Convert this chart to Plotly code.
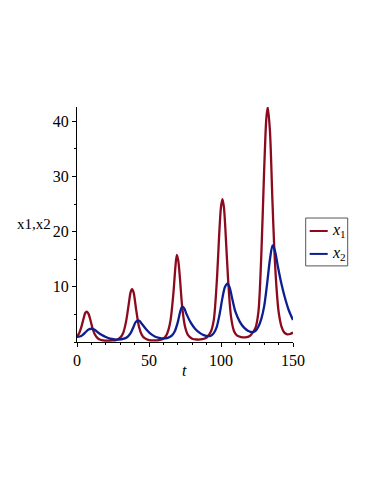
import plotly.graph_objects as go

# x1 (prey-like) samples
t1 = [0, 1.5, 3, 4.5, 5.8, 6.8, 8, 9.5, 11, 13, 15, 18, 22, 25,
      27, 30, 32, 34, 36, 37.2, 38.2, 39.3, 41, 43, 45, 47, 50, 54,
      57, 60, 62, 63.5, 65, 67, 68.3, 69.3, 70.3, 71.5, 73, 75, 77, 80, 83, 87,
      90, 93, 95, 97, 99, 100, 101, 102, 103, 105, 107, 109, 111, 114, 117,
      120, 122, 124, 126, 128, 130, 131.5, 132.5, 134, 135.7, 137, 138.5, 140,
      142, 144, 146, 148, 150]
x1 = [1.0, 1.6, 2.7, 4.2, 5.3, 5.5, 5.1, 3.8, 2.3, 1.1, 0.55, 0.3, 0.25, 0.28,
      0.35, 0.8, 1.6, 3.6, 7.0, 9.0, 9.6, 9.0, 6.0, 2.8, 1.3, 0.7, 0.35, 0.28,
      0.35, 0.6, 1.2, 2.2, 4.0, 9.0, 13.5, 15.8, 14.8, 11.5, 6.5, 2.8, 1.3, 0.6, 0.45, 0.5,
      0.8, 1.9, 4.0, 10.6, 20.7, 24.5, 25.9, 24.5, 20.7, 11.0, 4.5, 2.0, 1.2, 0.9, 0.85,
      1.1, 1.7, 2.6, 5.5, 15.8, 31.4, 40.6, 42.6, 38.2, 25.7, 17.0, 10.0, 5.5,
      2.8, 1.7, 1.4, 1.45, 1.7]

# x2 (predator-like) samples
t2 = [0, 2, 4, 6, 8, 10, 12, 14, 17, 20, 23, 26, 29, 32, 35, 37, 39, 40.5, 42,
      43.5, 45, 48, 51, 54, 57, 60, 63, 66, 68, 70, 71.5, 73, 74.5, 76, 79, 82,
      85, 88, 91, 93, 95, 97, 99, 101, 102.8, 104.5, 106, 108, 110, 113, 116,
      119, 122, 124, 126, 128, 130, 132, 134, 135.8, 137.5, 139.5, 142, 144.2,
      147, 150]
x2 = [0.95, 1.0, 1.3, 1.8, 2.25, 2.4, 2.25, 1.85, 1.3, 0.9, 0.6, 0.48, 0.45, 0.55, 0.9, 1.5, 2.6, 3.5, 3.9,
      3.8, 3.3, 2.3, 1.5, 1.0, 0.75, 0.65, 0.75, 1.2, 2.0, 3.6, 5.3, 6.4, 6.1, 5.1, 3.5, 2.4,
      1.7, 1.25, 1.05, 1.15, 1.6, 2.7, 5.0, 8.0, 10.0, 10.6, 9.9, 7.6, 5.5, 3.7, 2.6,
      2.0, 1.8, 2.0, 2.8, 4.2, 6.5, 10.5, 15.0, 17.5, 16.5, 13.7, 10.5, 8.2,
      5.8, 4.0]

x_ticks = [0, 50, 100, 150]
y_ticks = [10, 20, 30, 40]
series_names = ["<i>x</i><sub>1</sub>", "<i>x</i><sub>2</sub>"]
RED = "#8C0A1E"
BLUE = "#0C1E90"
FONT = "Liberation Serif"

fig = go.Figure()
fig.add_trace(go.Scatter(x=t1, y=x1, mode="lines", line=dict(color=RED, width=2.3, shape="spline", smoothing=0.8),
                         showlegend=False))
fig.add_trace(go.Scatter(x=t2, y=x2, mode="lines", line=dict(color=BLUE, width=2.3, shape="spline", smoothing=0.8),
                         showlegend=False))

# page body has an 8px default margin; compensate
OFF = 8
W, H = 374 - OFF, 484 - OFF
PL, PR, PT, PB = 77.3, 293.3, 106.7, 342.3   # plot area in reference pixels
L = PL - OFF
T = PT - OFF
pw, ph = PR - PL, PB - PT
R = W - L - pw
B = H - T - ph

def px(p):
    return (p - PL) / pw

def py(q):
    return (PB - q) / ph

shapes = [
    dict(type="rect", xref="paper", yref="paper", x0=px(306), x1=px(348), y0=py(266), y1=py(218),
         line=dict(color="#555555", width=1), fillcolor="white"),
    dict(type="line", xref="paper", yref="paper", x0=px(310), x1=px(328), y0=py(231), y1=py(231),
         line=dict(color=RED, width=2)),
    dict(type="line", xref="paper", yref="paper", x0=px(310), x1=px(328), y0=py(254), y1=py(254),
         line=dict(color=BLUE, width=2)),
]
annotations = [
    dict(text=series_names[0], xref="paper", yref="paper", x=px(330), y=py(231), xanchor="left", yanchor="middle",
         showarrow=False, font=dict(family=FONT, size=16, color="black")),
    dict(text=series_names[1], xref="paper", yref="paper", x=px(330), y=py(254), xanchor="left", yanchor="middle",
         showarrow=False, font=dict(family=FONT, size=16, color="black")),
    dict(text="x1,x2", xref="paper", yref="paper", x=px(53), y=py(224), xanchor="right", yanchor="middle",
         showarrow=False, font=dict(family=FONT, size=15, color="black")),
    dict(text="<i>t</i>", xref="paper", yref="paper", x=px(185), y=py(371), xanchor="center", yanchor="middle",
         showarrow=False, font=dict(family=FONT, size=16, color="black")),
]

fig.update_layout(
    width=W, height=H,
    margin=dict(l=L, r=R, t=T, b=B, pad=0, autoexpand=False),
    paper_bgcolor="white", plot_bgcolor="white",
    shapes=shapes, annotations=annotations,
    showlegend=False,
    font=dict(family=FONT, size=15, color="black"),
)
fig.update_xaxes(range=[0, 150], tickvals=x_ticks, ticktext=[str(v) for v in x_ticks],
                 showgrid=False, zeroline=False, showline=True, linecolor="black", linewidth=1,
                 ticks="outside", ticklen=4, tickcolor="black", automargin=False,
                 minor=dict(dtick=10, ticks="outside", ticklen=2, tickcolor="black"),
                 tickfont=dict(family=FONT, size=16, color="black"))
fig.update_yaxes(range=[0, 42.6], tickvals=y_ticks, ticktext=[str(v) for v in y_ticks],
                 showgrid=False, zeroline=False, showline=True, linecolor="black", linewidth=1,
                 ticks="outside", ticklen=4, tickcolor="black", automargin=False,
                 minor=dict(dtick=5, ticks="outside", ticklen=2, tickcolor="black"),
                 tickfont=dict(family=FONT, size=16, color="black"))

fig.write_html("out.html")
